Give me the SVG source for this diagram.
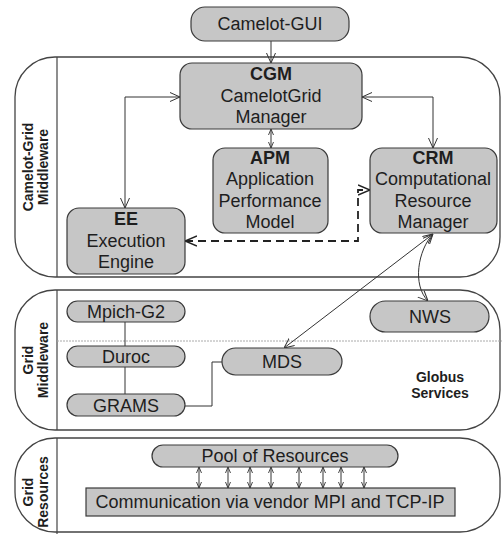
<svg xmlns="http://www.w3.org/2000/svg" width="502" height="534" viewBox="0 0 502 534">
<style>
.layer{fill:#fff;stroke:#444;stroke-width:1.3}
.sep{stroke:#444;stroke-width:1.2}
.node{fill:#c6c6c6;stroke:#3a3a3a;stroke-width:1.2}
.t{font-family:"Liberation Sans",Arial,sans-serif;font-size:18px;fill:#1e1e1e;text-anchor:middle}
.b{font-weight:bold}
.side{font-family:"Liberation Sans",Arial,sans-serif;font-size:14px;font-weight:bold;fill:#1e1e1e;text-anchor:middle}
.c{fill:none;stroke:#333;stroke-width:1}
.d{fill:none;stroke:#222;stroke-width:1.8;stroke-dasharray:8,5}
</style>
<defs>
<marker id="ah" viewBox="0 0 10 10" refX="10" refY="5" markerWidth="10" markerHeight="10" markerUnits="userSpaceOnUse" orient="auto-start-reverse">
<path d="M0,0.5 L10,5 L0,9.5" fill="none" stroke="#333" stroke-width="1"/>
</marker>
<marker id="as" viewBox="0 0 6 6" refX="6" refY="3" markerWidth="6" markerHeight="6" markerUnits="userSpaceOnUse" orient="auto-start-reverse">
<path d="M0,0.5 L6,3 L0,5.5" fill="none" stroke="#333" stroke-width="0.9"/>
</marker>
<marker id="ahd" viewBox="0 0 12 12" refX="12" refY="6" markerWidth="12" markerHeight="12" markerUnits="userSpaceOnUse" orient="auto-start-reverse">
<path d="M0,1 L12,6 L0,11" fill="none" stroke="#222" stroke-width="1.6"/>
</marker>
</defs>

<g id="layers">
<rect class="layer" x="15" y="57" width="485" height="220" rx="40" ry="40"/>
<line class="sep" x1="57" y1="57" x2="57" y2="277"/>
<rect class="layer" x="15" y="290" width="485" height="140" rx="40" ry="40"/>
<line class="sep" x1="57" y1="290" x2="57" y2="430"/>
<line x1="57" y1="341" x2="502" y2="341" stroke="#aaa" stroke-width="1" stroke-dasharray="2,1"/>
<rect class="layer" x="15" y="438" width="485" height="94" rx="40" ry="40"/>
<line class="sep" x1="57" y1="438" x2="57" y2="534"/>
<text class="side" transform="translate(33,167) rotate(-90)">Camelot-Grid</text>
<text class="side" transform="translate(48,167) rotate(-90)">Middleware</text>
<text class="side" transform="translate(33,360) rotate(-90)">Grid</text>
<text class="side" transform="translate(48,360) rotate(-90)">Middleware</text>
<text class="side" transform="translate(33,492) rotate(-90)">Grid</text>
<text class="side" transform="translate(48,492) rotate(-90)">Resources</text>
<text class="side" x="440" y="382">Globus</text>
<text class="side" x="440" y="398">Services</text>
</g>

<g id="connectors">
<line class="c" x1="271" y1="41" x2="271" y2="63" marker-end="url(#ah)"/>
<path class="c" d="M180,97 H125 V208" marker-start="url(#ah)" marker-end="url(#ah)"/>
<path class="c" d="M362,97 H433 V148" marker-start="url(#ah)" marker-end="url(#ah)"/>
<line class="c" x1="271" y1="129" x2="271" y2="148" marker-start="url(#as)" marker-end="url(#as)"/>
<path class="d" d="M185,241 H358 V190 H370" marker-start="url(#ahd)" marker-end="url(#ahd)"/>
<line class="c" x1="433" y1="234" x2="284" y2="348" marker-start="url(#ah)" marker-end="url(#ah)"/>
<path class="c" d="M433,234 C418,250 412,285 428,301" marker-start="url(#ah)" marker-end="url(#ah)"/>
<line class="c" x1="125" y1="322" x2="125" y2="346"/>
<line class="c" x1="125" y1="367" x2="125" y2="394"/>
<path class="c" d="M185,406 H212 V362 H222"/>
<line class="c" x1="199" y1="467" x2="199" y2="488" marker-start="url(#as)" marker-end="url(#as)"/>
<line class="c" x1="228" y1="467" x2="228" y2="488" marker-start="url(#as)" marker-end="url(#as)"/>
<line class="c" x1="250" y1="467" x2="250" y2="488" marker-start="url(#as)" marker-end="url(#as)"/>
<line class="c" x1="271" y1="467" x2="271" y2="488" marker-start="url(#as)" marker-end="url(#as)"/>
<line class="c" x1="299" y1="467" x2="299" y2="488" marker-start="url(#as)" marker-end="url(#as)"/>
<line class="c" x1="323" y1="467" x2="323" y2="488" marker-start="url(#as)" marker-end="url(#as)"/>
<line class="c" x1="341" y1="467" x2="341" y2="488" marker-start="url(#as)" marker-end="url(#as)"/>
<line class="c" x1="364" y1="467" x2="364" y2="488" marker-start="url(#as)" marker-end="url(#as)"/>
</g>

<g id="gui">
<rect class="node" x="191" y="7" width="158" height="34" rx="14"/>
<text class="t" x="270" y="30">Camelot-GUI</text>
</g>
<g id="cgm">
<rect class="node" x="180" y="63" width="182" height="66" rx="12"/>
<text class="t b" x="271" y="80">CGM</text>
<text class="t" x="271" y="102">CamelotGrid</text>
<text class="t" x="271" y="123">Manager</text>
</g>
<g id="apm">
<rect class="node" x="213" y="148" width="115" height="85" rx="12"/>
<text class="t b" x="270" y="164">APM</text>
<text class="t" x="270" y="185">Application</text>
<text class="t" x="270" y="207">Performance</text>
<text class="t" x="270" y="228">Model</text>
</g>
<g id="crm">
<rect class="node" x="370" y="148" width="127" height="85" rx="12"/>
<text class="t b" x="433" y="164">CRM</text>
<text class="t" x="433" y="185">Computational</text>
<text class="t" x="433" y="207">Resource</text>
<text class="t" x="433" y="228">Manager</text>
</g>
<g id="ee">
<rect class="node" x="67" y="208" width="118" height="66" rx="12"/>
<text class="t b" x="126" y="225">EE</text>
<text class="t" x="126" y="247">Execution</text>
<text class="t" x="126" y="268">Engine</text>
</g>
<g id="mpich">
<rect class="node" x="67" y="301" width="118" height="21" rx="10.5"/>
<text class="t" x="126" y="318">Mpich-G2</text>
</g>
<g id="nws">
<rect class="node" x="370" y="301" width="119" height="31" rx="15.5"/>
<text class="t" x="430" y="323">NWS</text>
</g>
<g id="duroc">
<rect class="node" x="67" y="346" width="118" height="21" rx="10.5"/>
<text class="t" x="126" y="363">Duroc</text>
</g>
<g id="mds">
<rect class="node" x="222" y="348" width="120" height="27" rx="13.5"/>
<text class="t" x="282" y="368">MDS</text>
</g>
<g id="grams">
<rect class="node" x="67" y="394" width="118" height="22" rx="11"/>
<text class="t" x="126" y="412">GRAMS</text>
</g>
<g id="pool">
<rect class="node" x="152" y="445" width="246" height="22" rx="11"/>
<text class="t" x="275" y="462">Pool of Resources</text>
</g>
<g id="comm">
<rect class="node" x="86" y="488" width="369" height="28" rx="0"/>
<text class="t" x="270" y="508">Communication via vendor MPI and TCP-IP</text>
</g>
</svg>
